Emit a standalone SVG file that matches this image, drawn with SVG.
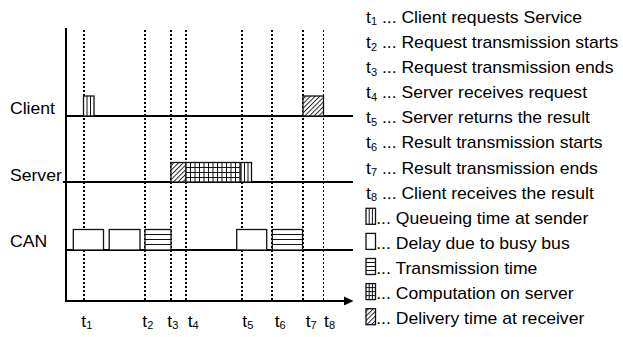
<svg xmlns="http://www.w3.org/2000/svg" width="623" height="337" viewBox="0 0 623 337">
<defs>
<style>
.t{font-family:"Liberation Sans",Arial,Helvetica,sans-serif;font-size:16px;fill:#000}
.s{font-size:10px}
.ax{stroke:#000;stroke-width:2;fill:none}
.dot{stroke:#000;stroke-width:2;stroke-dasharray:2 2;fill:none}
.dot1{stroke:#000;stroke-width:1;stroke-dasharray:2 2;fill:none}
.bx{fill:#fff;stroke:#111;stroke-width:1.3}
.hb{fill:url(#hatch);stroke:#111;stroke-width:1.3}
.in{stroke:#111;stroke-width:1;fill:none}
</style>
<pattern id="hatch" patternUnits="userSpaceOnUse" width="3.3" height="3.3" patternTransform="rotate(45)">
<rect width="3.3" height="3.3" fill="#fff"/>
<line x1="0.5" y1="0" x2="0.5" y2="3.3" stroke="#111" stroke-width="0.9"/>
</pattern>
</defs>
<rect width="623" height="337" fill="#fff"/>

<g id="markers">
<line class="dot" x1="84" y1="30" x2="84" y2="300"/>
<line class="dot" x1="145" y1="30" x2="145" y2="300"/>
<line class="dot" x1="171" y1="30" x2="171" y2="300"/>
<line class="dot" x1="186" y1="30" x2="186" y2="300"/>
<line class="dot" x1="242" y1="30" x2="242" y2="300"/>
<line class="dot" x1="272" y1="30" x2="272" y2="300"/>
<line class="dot" x1="303" y1="30" x2="303" y2="300"/>
<line class="dot1" x1="323.5" y1="30" x2="323.5" y2="300"/>
</g>

<g id="axes">
<line class="ax" x1="66" y1="28" x2="66" y2="302"/>
<line class="ax" x1="65" y1="301" x2="346" y2="301"/>
<polygon points="344,296.5 353.5,301 344,305.5" fill="#000"/>
<line class="ax" x1="66" y1="116" x2="353" y2="116"/>
<line class="ax" x1="63" y1="182" x2="353" y2="182"/>
<line class="ax" x1="66" y1="250" x2="353" y2="250"/>
</g>

<g id="lane-labels">
<text class="t" transform="translate(10,114) scale(1.1,1)">Client</text>
<text class="t" transform="translate(10,181) scale(1.1,1)">Server</text>
<text class="t" transform="translate(10,246.5) scale(1.1,1)">CAN</text>
</g>

<g id="client">
<rect class="bx" x="83.5" y="96" width="10.5" height="20"/>
<path class="in" d="M87,96V116M90.5,96V116"/>
<rect class="hb" x="303" y="96" width="20.5" height="20"/>
</g>

<g id="server">
<rect class="hb" x="171" y="162.5" width="15" height="19.5"/>
<rect class="bx" x="186" y="162.5" width="54" height="19.5"/>
<path class="in" d="M190.5,162.5V182M195,162.5V182M199.5,162.5V182M204,162.5V182M208.5,162.5V182M213,162.5V182M217.5,162.5V182M222,162.5V182M226.5,162.5V182M231,162.5V182M235.5,162.5V182M186,167.5H240M186,172.5H240M186,177.5H240"/>
<rect class="bx" x="241" y="162.5" width="10.5" height="19.5"/>
<path class="in" d="M244.5,162.5V182M248,162.5V182"/>
</g>

<g id="can">
<rect class="bx" x="73.3" y="229.5" width="30.2" height="20.5"/>
<rect class="bx" x="109.2" y="229.5" width="30.8" height="20.5"/>
<rect class="bx" x="145" y="229.5" width="26" height="20.5"/>
<path class="in" d="M145,234.5H171M145,239.5H171M145,244.5H171"/>
<rect class="bx" x="236.7" y="229.5" width="30" height="20.5"/>
<rect class="bx" x="272.3" y="229.5" width="30.2" height="20.5"/>
<path class="in" d="M272.3,234.5H302.5M272.3,239.5H302.5M272.3,244.5H302.5"/>
</g>

<g id="time-labels">
<text class="t" transform="translate(81.3,326.5) scale(1.1,1)">t<tspan class="s" dy="2.5">1</tspan></text>
<text class="t" transform="translate(142.3,326.5) scale(1.1,1)">t<tspan class="s" dy="2.5">2</tspan></text>
<text class="t" transform="translate(167.3,326.5) scale(1.1,1)">t<tspan class="s" dy="2.5">3</tspan></text>
<text class="t" transform="translate(187.7,326.5) scale(1.1,1)">t<tspan class="s" dy="2.5">4</tspan></text>
<text class="t" transform="translate(242.3,326.5) scale(1.1,1)">t<tspan class="s" dy="2.5">5</tspan></text>
<text class="t" transform="translate(274.7,326.5) scale(1.1,1)">t<tspan class="s" dy="2.5">6</tspan></text>
<text class="t" transform="translate(305.7,326.5) scale(1.1,1)">t<tspan class="s" dy="2.5">7</tspan></text>
<text class="t" transform="translate(324,326.5) scale(1.1,1)">t<tspan class="s" dy="2.5">8</tspan></text>
</g>

<g id="legend">
<g transform="translate(366,0) scale(1.1,1)">
<text class="t" x="0" y="23">t<tspan class="s" dy="2.5">1</tspan><tspan dy="-2.5"> ... Client requests Service</tspan></text>
<text class="t" x="0" y="48.1">t<tspan class="s" dy="2.5">2</tspan><tspan dy="-2.5"> ... Request transmission starts</tspan></text>
<text class="t" x="0" y="73.2">t<tspan class="s" dy="2.5">3</tspan><tspan dy="-2.5"> ... Request transmission ends</tspan></text>
<text class="t" x="0" y="98.3">t<tspan class="s" dy="2.5">4</tspan><tspan dy="-2.5"> ... Server receives request</tspan></text>
<text class="t" x="0" y="123.4">t<tspan class="s" dy="2.5">5</tspan><tspan dy="-2.5"> ... Server returns the result</tspan></text>
<text class="t" x="0" y="148.5">t<tspan class="s" dy="2.5">6</tspan><tspan dy="-2.5"> ... Result transmission starts</tspan></text>
<text class="t" x="0" y="173.6">t<tspan class="s" dy="2.5">7</tspan><tspan dy="-2.5"> ... Result transmission ends</tspan></text>
<text class="t" x="0" y="198.7">t<tspan class="s" dy="2.5">8</tspan><tspan dy="-2.5"> ... Client receives the result</tspan></text>
<text class="t" x="9.3" y="223.8">... Queueing time at sender</text>
<text class="t" x="9.3" y="248.9">... Delay due to busy bus</text>
<text class="t" x="9.3" y="274">... Transmission time</text>
<text class="t" x="9.3" y="299.1">... Computation on server</text>
<text class="t" x="9.3" y="324.2">... Delivery time at receiver</text>
</g>
<rect class="bx" x="366" y="208.3" width="9.5" height="16"/>
<path class="in" d="M369.2,208.3V224.3M372.4,208.3V224.3"/>
<rect class="bx" x="366" y="233.4" width="9.5" height="16"/>
<rect class="bx" x="366" y="258.5" width="9.5" height="16"/>
<path class="in" d="M366,262.5H375.5M366,266.5H375.5M366,270.5H375.5"/>
<rect class="bx" x="366" y="283.6" width="9.5" height="16"/>
<path class="in" d="M369.2,283.6V299.6M372.4,283.6V299.6M366,287.6H375.5M366,291.6H375.5M366,295.6H375.5"/>
<rect class="hb" x="366" y="308.7" width="9.5" height="16"/>
</g>
</svg>
